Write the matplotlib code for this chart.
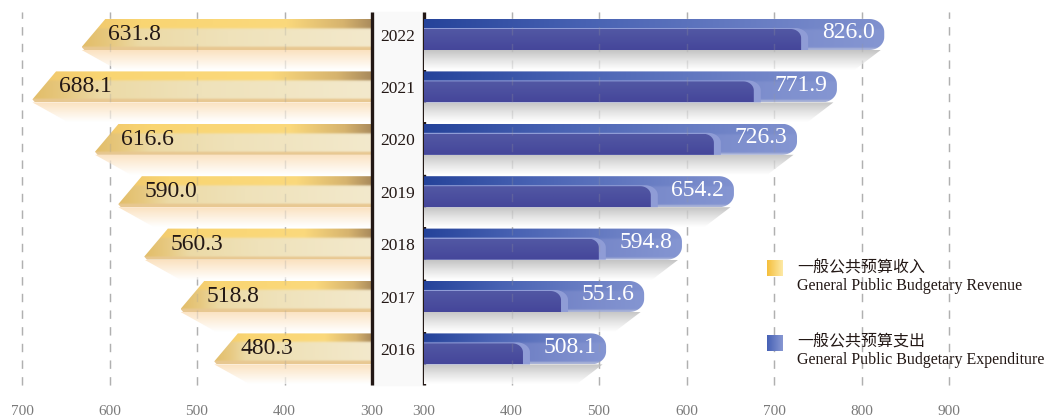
import numpy as np
import matplotlib
matplotlib.use('Agg')
import matplotlib.pyplot as plt
from matplotlib.patches import Polygon
from matplotlib.colors import to_rgb

## data
years = ['2022', '2021', '2020', '2019', '2018', '2017', '2016']
revenue = [631.8, 688.1, 616.6, 590.0, 560.3, 518.8, 480.3]
expenditure = [826.0, 771.9, 726.3, 654.2, 594.8, 551.6, 508.1]
left_ticks = [700, 600, 500, 400, 300]
right_ticks = [300, 400, 500, 600, 700, 800, 900]
legend_cn = ['一般公共预算收入', '一般公共预算支出']
legend_en = ['General Public Budgetary Revenue', 'General Public Budgetary Expenditure']

SERIF = 'Liberation Serif'
W, H = 1049, 419
fig = plt.figure(figsize=(W / 100, H / 100), dpi=100)


def pix_axes(x0, x1, y0=0, y1=390):
    return fig.add_axes([x0 / W, 1 - y1 / H, (x1 - x0) / W, (y1 - y0) / H])


axL = pix_axes(0, 372)
axC = pix_axes(372, 424)
axR = pix_axes(424, W)

ROW = 52.4
Y0 = 34.5
PX = 0.875  # pixels per value unit
ylim = ((390 - Y0) / ROW, -Y0 / ROW)
xlimL = (300 + 372 / PX, 300)
xlimR = (300, 300 + 625 / PX)
HALF = 15.5 / ROW
SHADOW = 20 / ROW


def ramp(stops, n):
    # stops: list of (pos, color) -> n x 3 array
    u = np.linspace(0, 1, n)
    pos = [s[0] for s in stops]
    cols = np.array([to_rgb(s[1]) for s in stops])
    return np.stack([np.interp(u, pos, cols[:, k]) for k in range(3)], axis=-1)


def grad_fill(ax, poly, x0, x1, y0, y1, img, z):
    patch = Polygon(poly, closed=True, facecolor='none', edgecolor='none')
    ax.add_patch(patch)
    im = ax.imshow(img, extent=[x0, x1, y1, y0], origin='upper', aspect='auto',
                   interpolation='bilinear', zorder=z)
    im.set_clip_path(patch)


def round_bar(x0, x1, y0, y1, rx, ry, top=True, bottom=True):
    pts = [(x0, y0)]
    th = np.linspace(0, np.pi / 2, 14)
    if top:
        cx, cy = x1 - rx, y0 + ry
        pts += [(cx + rx * np.sin(a), cy - ry * np.cos(a)) for a in th]
    else:
        pts.append((x1, y0))
    if bottom:
        cx, cy = x1 - rx, y1 - ry
        pts += [(cx + rx * np.cos(a), cy + ry * np.sin(a)) for a in th]
    else:
        pts.append((x1, y1))
    pts.append((x0, y1))
    return pts


nx, ny = 220, 60
t = np.linspace(0, 1, ny)[:, None, None]

# gold bar image (col 0 = centre side, last col = tip)
g_top = ramp([(0, '#a98a5c'), (0.1, '#d6b36e'), (0.3, '#fbd97c'), (0.8, '#f9d572'), (1, '#efc66c')], nx)[None]
g_low = ramp([(0, '#f3e9cc'), (0.5, '#efe2ba'), (0.8, '#ecdaa6'), (0.9, '#e7c981'), (1, '#e2bd68')], nx)[None]
w_top = 1 / (1 + np.exp((t - 0.3) * 60))
gold_img = w_top * g_top + (1 - w_top) * g_low
stripe = 1 / (1 + np.exp(-(t - 0.9) * 80))
gold_img = gold_img * (1 - stripe) + stripe * np.array(to_rgb('#e8c892'))
gold_shadow = ramp([(0, '#fbe2c0'), (1, '#ffffff')], ny)[:, None, :] * np.ones((1, nx, 1))

# blue bar image
b_top = ramp([(0, '#25439a'), (0.35, '#4862b3'), (1, '#8091cf')], nx)[None]
b_low = ramp([(0, '#5868b6'), (1, '#8596d2')], nx)[None]
w_topb = 1 / (1 + np.exp((t - 0.33) * 60))
blue_img = w_topb * b_top + (1 - w_topb) * b_low
edge = 1 / (1 + np.exp(-(t - 0.94) * 90))
blue_img = blue_img * (1 - edge) + edge * np.array(to_rgb('#a9b3d8'))
inner_img = ramp([(0, '#5258a4'), (1, '#45469a')], ny)[:, None, :] * np.ones((1, nx, 1))
grey_shadow = ramp([(0, '#c4c4c4'), (0.5, '#e4e4e4'), (1, '#ffffff')], ny)[:, None, :] * np.ones((1, nx, 1))

for i in range(len(years)):
    top, bot = i - HALF, i + HALF

    # revenue, left side
    v = revenue[i]
    sh = [(300, bot), (v, bot), (v - 41, bot + SHADOW), (300, bot + SHADOW)]
    grad_fill(axL, sh, 300, v, bot, bot + SHADOW, gold_shadow, 1)
    bar = [(300, top), (v - 27, top), (v, bot - 3 / ROW), (v - 3, bot), (300, bot)]
    grad_fill(axL, bar, 300, v, top, bot, gold_img, 2)
    axL.text(v - 30, i + 0.0, f'{v:.1f}', ha='left', va='center', fontsize=17,
             family=SERIF, color='#231815', zorder=5)

    # expenditure, right side
    e = expenditure[i]
    sh = [(300, bot), (e - 4, bot), (e - 34, bot + SHADOW), (300, bot + SHADOW)]
    grad_fill(axR, sh, 300, e, bot, bot + SHADOW, grey_shadow, 1)
    outer = round_bar(300, e, top, bot, 17, 13 / ROW)
    grad_fill(axR, outer, 300, e, top, bot, blue_img, 2)
    ie = e - 95
    # soft rim ahead of the inner bar
    rim = round_bar(300, ie + 8, top + 9 / ROW, bot, 15, 10 / ROW, bottom=False)
    axR.add_patch(Polygon(rim, closed=True, facecolor='#8f9cd6', edgecolor='none', zorder=2.5))
    inner = round_bar(300, ie, top + 10 / ROW, bot, 12, 9 / ROW, bottom=False)
    grad_fill(axR, inner, 300, ie, top + 10 / ROW, bot, inner_img, 3)
    axR.text(e - 11, i - 0.03, f'{e:.1f}', ha='right', va='center', fontsize=17,
             family=SERIF, color='white', zorder=5)

# axes styling
for ax, ticks, lim in [(axL, left_ticks, xlimL), (axR, right_ticks, xlimR)]:
    ax.set_xlim(*lim)
    ax.set_ylim(*ylim)
    for tk in ticks:
        if tk != 300:
            ax.axvline(tk, ymin=0.013, ymax=0.969, color='#b8b8b8', lw=1,
                       dashes=(6, 6), zorder=0)
            ax.axvline(tk, ymin=0.013, ymax=0.969, color='#999999', lw=1,
                       dashes=(6, 6), alpha=0.25, zorder=4)
    ax.set_xticks(ticks)
    ax.set_xticklabels([str(tk) for tk in ticks], family=SERIF, fontsize=11, color='#7a7a7a')
    ax.tick_params(axis='x', length=0, pad=11)
    ax.set_yticks([])
    for s in ax.spines.values():
        s.set_visible(False)
    ax.patch.set_alpha(0)

# centre column with years
y_a, y_b = (12 - Y0) / ROW, (385 - Y0) / ROW
axC.set_xlim(0, 1)
axC.set_ylim(*ylim)
axC.fill_between([0, 1], y_a, y_b, color='#f9f9f9', zorder=0)
axC.vlines([0, 1], y_a, y_b, color='#231815', lw=2.4, clip_on=False, zorder=3)
for i, yr in enumerate(years):
    axC.text(0.5, i + 0.04, yr, ha='center', va='center', fontsize=12.5,
             family=SERIF, color='#231815')
axC.axis('off')

# legend
leg_y = [(268, 286, 260), (342, 360, 335)]
leg_cols = [('#f5bf3c', '#fde9a6'), ('#4661b5', '#8797d2')]
for k in range(2):
    ycn, yen, ysq = leg_y[k]
    sq = fig.add_axes([767 / W, 1 - (ysq + 16) / H, 16 / W, 16 / H])
    sq.imshow(ramp([(0, leg_cols[k][0]), (1, leg_cols[k][1])], 40)[None], aspect='auto')
    sq.axis('off')
    fig.text(797 / W, 1 - ycn / H, legend_cn[k], family=['Noto Sans CJK SC', 'DejaVu Sans'],
             fontsize=11.5, va='center', color='#231815')
    fig.text(797 / W, 1 - yen / H, legend_en[k], family=SERIF,
             fontsize=11.5, va='center', color='#231815')

fig.savefig('out.png', dpi=100)
